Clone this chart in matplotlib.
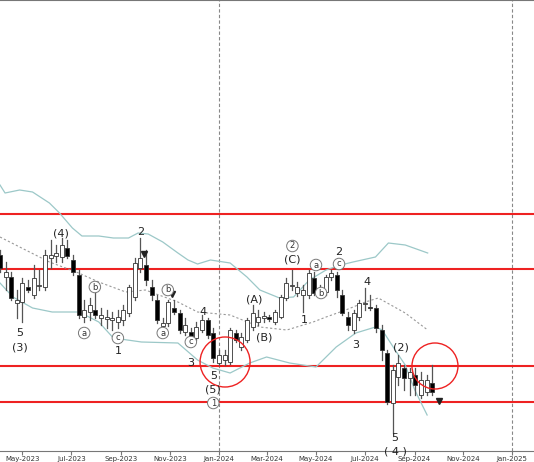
import matplotlib.pyplot as plt
import matplotlib.dates as mdates
from matplotlib.patches import Ellipse
import pandas as pd

plt.switch_backend('agg')

# weekly candles, values are chart levels (larger = lower on the chart, axis is inverted)
start = pd.Timestamp('2023-04-03')
body_top = [255, 272, 277, 300, 283, 287, 278, 285, 255, 255, 253, 245, 248, 260, 275, 310, 305, 310, 315, 317,
            318, 317, 310, 287, 263, 258, 265, 287, 300, 323, 302, 308, 313, 325, 332, 327, 320, 320, 333, 355,
            355, 330, 333, 337, 320, 313, 317, 316, 317, 312, 297, 283, 285, 287, 290, 273, 278, 289, 277, 273,
            275, 295, 317, 313, 303, 303, 307, 308, 330, 353, 370, 363, 368, 372, 375, 380, 380, 383]
body_bot = [268, 277, 298, 303, 302, 290, 295, 286, 287, 258, 256, 257, 256, 272, 315, 317, 312, 315, 318, 319,
            320, 322, 320, 313, 297, 268, 280, 295, 320, 326, 323, 312, 330, 332, 337, 338, 330, 335, 358, 363,
            360, 362, 340, 347, 340, 327, 322, 318, 319, 322, 317, 298, 286, 293, 295, 295, 293, 294, 292, 277,
            290, 313, 325, 330, 317, 304, 308, 328, 350, 402, 403, 377, 378, 378, 385, 395, 392, 392]
wick_top = [250, 262, 272, 290, 278, 280, 265, 270, 250, 240, 245, 238, 240, 255, 270, 300, 298, 290, 308, 310,
            312, 310, 305, 285, 258, 238, 250, 280, 295, 318, 300, 300, 310, 318, 328, 322, 315, 318, 328, 350,
            350, 328, 330, 333, 318, 305, 310, 312, 315, 310, 295, 278, 270, 282, 285, 270, 272, 285, 275, 270,
            272, 290, 312, 310, 300, 288, 295, 305, 325, 350, 365, 355, 365, 368, 368, 372, 375, 365]
wick_bot = [272, 290, 300, 318, 322, 292, 298, 290, 290, 268, 262, 262, 258, 275, 318, 322, 320, 318, 325, 328,
            330, 328, 325, 316, 300, 272, 285, 300, 323, 330, 326, 314, 333, 335, 342, 340, 332, 338, 362, 365,
            365, 364, 342, 350, 342, 330, 325, 322, 321, 324, 318, 300, 290, 296, 312, 298, 295, 297, 295, 280,
            297, 315, 330, 333, 320, 310, 310, 332, 360, 404, 433, 385, 390, 395, 395, 398, 395, 395]
bearish = [1, 0, 1, 0, 0, 1, 0, 0, 0, 0, 0, 0, 1, 1, 1, 0, 0, 1, 0, 0,
           0, 0, 0, 0, 0, 0, 1, 1, 1, 0, 0, 1, 1, 0, 1, 0, 0, 1, 1, 0,
           0, 0, 1, 0, 0, 0, 0, 0, 1, 0, 0, 0, 0, 0, 0, 0, 1, 0, 0, 0,
           1, 1, 1, 0, 0, 0, 1, 1, 1, 1, 0, 0, 1, 0, 1, 0, 0, 1]

# bollinger bands, as (week index, level)
upper_wk = [0, 0.9, 3.5, 5.8, 8.8, 10.6, 12.9, 14.6, 17.6, 20.2, 22.9, 24.6, 26.4, 29, 31.7, 33.5, 35.2, 37.5,
            41, 44, 46.3, 49.8, 52.3, 55.1, 58.1, 60.7, 62.9, 66.9, 69.2, 72.2, 76.2]
upper_lv = [185, 193, 190, 192, 203, 213, 228, 236, 236, 238, 238, 233, 234, 242, 253, 260, 264, 260,
            263, 277, 290, 298, 297, 280, 270, 265, 262, 257, 243, 245, 253]
mid_wk = [0, 3.5, 8.8, 13.6, 17.6, 22.4, 25.9, 31.7, 35.2, 41, 46.3, 51.1, 55.8, 58.1, 61.6, 65.1, 67.4, 72.2, 76.2]
mid_lv = [237, 247, 262, 272, 282, 292, 290, 302, 312, 315, 327, 330, 322, 317, 310, 302, 298, 313, 330]
lower_wk = [0, 2.3, 5.8, 9.3, 14.1, 17.6, 20.2, 25.2, 31.7, 35.2, 37.9, 41, 44.5, 47.5, 51.6, 56.3, 59.9,
            63.4, 66.9, 68.1, 70.4, 72.2, 73.9, 76.1]
lower_lv = [283, 297, 308, 312, 312, 322, 338, 342, 343, 360, 368, 373, 363, 357, 363, 367, 347,
            333, 327, 330, 350, 365, 390, 415]

levels = [214, 269, 366, 402]

# wave labels: text, week index, level, circled
labels = [('(4)', 10.9, 233, False), ('5', 3.5, 333, False), ('(3)', 3.5, 347, False),
          ('2', 25, 232, False), ('b', 16.9, 287, True), ('a', 15, 333, True), ('c', 21, 338, True),
          ('1', 21, 351, False), ('b', 29.9, 290, True), ('a', 29, 333, True), ('4', 36.1, 312, False),
          ('c', 34, 342, True), ('3', 34, 363, False), ('5', 38, 376, False), ('(5)', 38, 390, False),
          ('1', 38, 403, True), ('(A)', 45.2, 300, False), ('(B)', 47, 338, False),
          ('2', 52.1, 246, True), ('(C)', 52.1, 260, False), ('a', 56.3, 265, True), ('c', 60.4, 264, True),
          ('2', 60.4, 252, False), ('b', 57.2, 293, True), ('1', 54.2, 320, False), ('4', 65.3, 282, False),
          ('3', 63.4, 345, False), ('(2)', 71.5, 348, False), ('5', 70.4, 438, False), ('( 4 )', 70.4, 452, False)]
arrows_wk = [25.7, 30.6, 78.2]
arrows_lv = [254, 294, 401]
circles = [(40.1, 362, 25), (77.5, 366, 23)]


def wk(i):
    return mdates.date2num(start + pd.Timedelta(days=7 * i))


fig = plt.figure(figsize=(5.34, 4.62), dpi=100)
ax = fig.add_axes([0, 11 / 462, 1, 451 / 462])
x0 = mdates.date2num(pd.Timestamp('2023-04-03'))
x1 = mdates.date2num(pd.Timestamp('2025-01-28'))
ax.set_xlim(x0, x1)
ax.set_ylim(451, 0)
px_per_day = 534 / (x1 - x0)

for lv in levels:
    ax.axhline(lv, color='#ee2222', lw=1.5, zorder=1)
for d in ['2024-01-01', '2025-01-01']:
    ax.axvline(mdates.date2num(pd.Timestamp(d)), color='#888888', lw=0.8, ls=(0, (3, 2)), zorder=0)

ax.plot([wk(i) for i in upper_wk], upper_lv, color='#9cc8c8', lw=0.9, zorder=2)
ax.plot([wk(i) for i in lower_wk], lower_lv, color='#9cc8c8', lw=0.9, zorder=2)
ax.plot([wk(i) for i in mid_wk], mid_lv, color='#999999', lw=0.8, ls=(0, (2, 2)), zorder=2)

w = 4 / px_per_day
for i in range(len(body_top)):
    x = wk(i)
    ax.plot([x, x], [wick_top[i], wick_bot[i]], color='#555555', lw=0.9, zorder=3)
    h = max(body_bot[i] - body_top[i], 1)
    ax.add_patch(plt.Rectangle((x - w / 2, body_top[i]), w, h,
                               facecolor='black' if bearish[i] else 'white',
                               edgecolor='#333333', lw=0.6, zorder=4))

ax.plot([wk(i) for i in arrows_wk], arrows_lv, 'v', color='#222222', ms=4, zorder=5)

for cx, cy, r in circles:
    ax.add_patch(Ellipse((wk(cx), cy), 2 * r / px_per_day, 2 * r, fill=False,
                         edgecolor='#ee2222', lw=1.0, zorder=6))

for txt, i, lv, circ in labels:
    if circ:
        ax.text(wk(i), lv, txt, ha='center', va='center', fontsize=6, color='#333333', zorder=7,
                bbox=dict(boxstyle='circle,pad=0.15', fc='white', ec='#777777', lw=0.7))
    else:
        ax.text(wk(i), lv, txt, ha='center', va='center', fontsize=8, color='#222222', zorder=7)

ticks = pd.date_range('2023-05-01', '2025-01-01', freq='2MS')
ax.set_xticks([mdates.date2num(t) for t in ticks])
ax.set_xticklabels([t.strftime('%b-%Y') for t in ticks], fontsize=5, color='#333333')
ax.tick_params(axis='x', length=3, pad=0.5, color='#777777')
ax.set_yticks([])
for s in ['left', 'right']:
    ax.spines[s].set_visible(False)
ax.spines['top'].set_color('#777777')
ax.spines['bottom'].set_color('#777777')
fig.patch.set_facecolor('white')

fig.savefig('out.png', dpi=100)
